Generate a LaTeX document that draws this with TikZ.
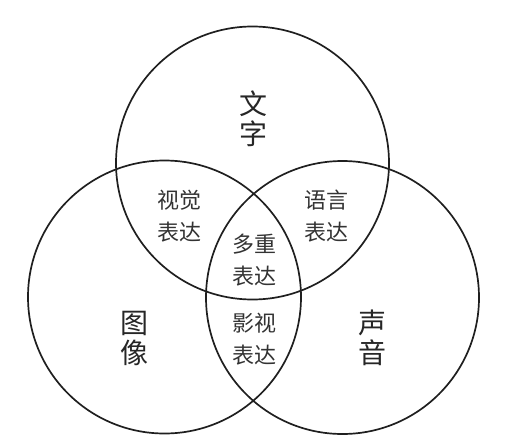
\documentclass[tikz,border=0pt]{standalone}
\usepackage{fontspec}
\newfontfamily\cjk{Noto Sans CJK SC}
\begin{document}
\begin{tikzpicture}[x=1pt,y=-1pt,
  ring/.style={circle,draw=black!88,line width=1.7pt,minimum size=273pt,inner sep=0pt},
  big/.style={align=center,text=black!85,font=\cjk\fontsize{28}{30}\selectfont,inner sep=0pt},
  small/.style={align=center,text=black!80,font=\cjk\fontsize{22}{32}\selectfont,inner sep=0pt}]
\useasboundingbox (0,0) rectangle (521,444);
\node[ring] (top) at (252.5,163) {};
\node[ring] (left) at (164.5,297) {};
\node[ring] (right) at (342.5,297.5) {};
\node[big] (wenzi) at (253,119) {文\\字};
\node[big] (tuxiang) at (134,338) {图\\像};
\node[big] (shengyin) at (372,338) {声\\音};
\node[small] (shijue) at (179,216) {视觉\\表达};
\node[small] (yuyan) at (326,216) {语言\\表达};
\node[small] (duozhong) at (254,260) {多重\\表达};
\node[small] (yingshi) at (254,339) {影视\\表达};
\end{tikzpicture}
\end{document}
